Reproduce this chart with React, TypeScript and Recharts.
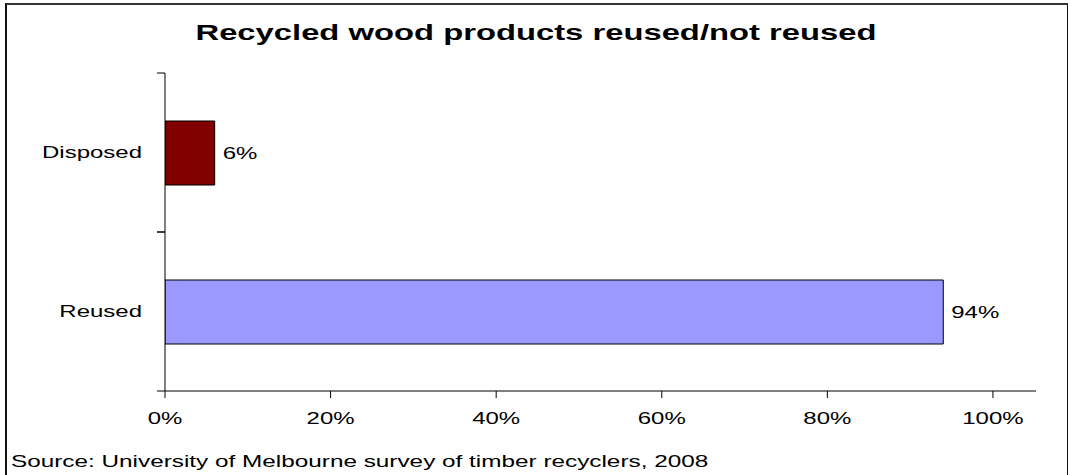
import { BarChart, Bar, XAxis, YAxis, Cell, LabelList } from "recharts"

const categories = ["Disposed", "Reused"]
const shares = [6, 94]
const barColors = ["#800000", "#9999FF"]
const xTicks = [0, 20, 40, 60, 80, 100]

const data = categories.map((name, i) => ({ name, value: shares[i] }))

const font = "'Liberation Sans', Arial, sans-serif"
// the source picture is stretched sideways, so the glyphs are too
const STRETCH = 1.5

function SText(props: any) {
  const { x, y, anchor = "start", size = 16, bold = false, sx = STRETCH, dy = 0, children } = props
  return (
    <text
      transform={`translate(${x},${y}) scale(${sx},1)`}
      dy={dy}
      textAnchor={anchor}
      fontSize={size}
      fontWeight={bold ? "bold" : "normal"}
      fontFamily={font}
      fill="#000"
    >
      {children}
    </text>
  )
}

// category label plus Excel-style tick marks on the band edges
function CategoryTick(props: any) {
  const { x, y, payload } = props
  const half = payload?.offset ?? 79.5
  const axisX = x + 23
  return (
    <g>
      <line x1={axisX - 8} x2={axisX} y1={y - half} y2={y - half} stroke="#000" />
      <line x1={axisX - 8} x2={axisX} y1={y + half} y2={y + half} stroke="#000" />
      <SText x={x} y={y} dy={5.5} anchor="end">
        {payload.value}
      </SText>
    </g>
  )
}

function PercentTick(props: any) {
  const { x, y, payload } = props
  return (
    <SText x={x} y={y} dy={12} anchor="middle">
      {`${payload.value}%`}
    </SText>
  )
}

function ValueLabel(props: any) {
  const { x, y, width, height, value } = props
  return (
    <SText x={x + width + 8} y={y + height / 2} dy={5.5}>
      {`${value}%`}
    </SText>
  )
}

export default function App() {
  return (
    <div style={{ position: "absolute", left: 0, top: 0, width: 1068, height: 475, background: "#fff" }}>
      <div
        style={{
          position: "absolute",
          left: 5,
          top: 3,
          width: 1060,
          height: 480,
          borderLeft: "2px solid #111",
          borderTop: "2px solid #333",
          borderRight: "2px solid #111",
        }}
      />
      <BarChart
        width={1068}
        height={475}
        data={data}
        layout="vertical"
        margin={{ top: 73, right: 32, bottom: 0, left: 0 }}
        style={{ position: "absolute", left: 0, top: 0 }}
      >
        <XAxis
          type="number"
          domain={[0, 105.2]}
          ticks={xTicks}
          tickSize={7}
          tickMargin={14}
          height={84}
          axisLine={{ stroke: "#000" }}
          tickLine={{ stroke: "#000" }}
          tick={<PercentTick />}
          allowDataOverflow
        />
        <XAxis xAxisId="top" orientation="top" type="number" domain={[0, 1]} height={0} tick={false} tickLine={false} axisLine={{ stroke: "#909090" }} />
        <YAxis
          type="category"
          dataKey="name"
          width={165}
          tickSize={8}
          tickMargin={15}
          tickLine={false}
          axisLine={{ stroke: "#000" }}
          tick={<CategoryTick />}
        />
        <YAxis yAxisId="right" orientation="right" type="category" dataKey="name" width={0} tick={false} tickLine={false} axisLine={{ stroke: "#909090" }} />
        <Bar dataKey="value" barSize={64} stroke="#000" strokeWidth={1} isAnimationActive={false}>
          {data.map((d, i) => (
            <Cell key={d.name} fill={barColors[i]} />
          ))}
          <LabelList dataKey="value" content={<ValueLabel />} />
        </Bar>
      </BarChart>
      <svg width={1068} height={475} style={{ position: "absolute", left: 0, top: 0, pointerEvents: "none" }}>
        <SText x={536} y={40} anchor="middle" size={22} bold sx={1.49}>
          Recycled wood products reused/not reused
        </SText>
        <SText x={11} y={467} sx={1.52}>
          Source: University of Melbourne survey of timber recyclers, 2008
        </SText>
      </svg>
    </div>
  )
}
